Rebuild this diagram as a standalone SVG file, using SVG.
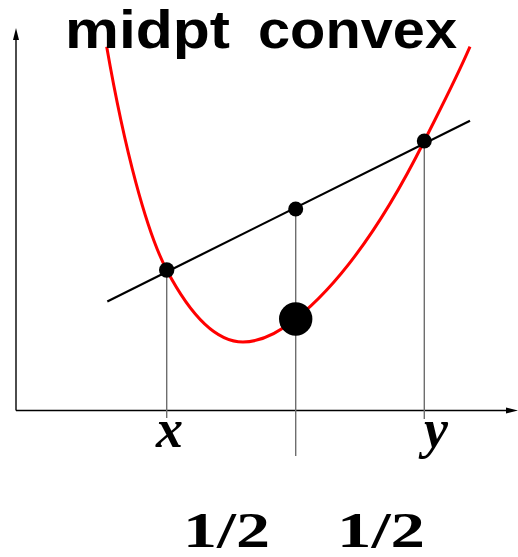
<svg xmlns="http://www.w3.org/2000/svg" width="518" height="557" viewBox="0 0 518 557">
<style>
.axis{stroke:#000;stroke-width:1.4;fill:none}
.drop{stroke:#6e6e6e;stroke-width:1.4;fill:none}
.curve{stroke:#ff0000;stroke-width:3;fill:none}
.chord{stroke:#000;stroke-width:2.2;fill:none}
.dot{fill:#000}
.math{font-family:"Liberation Serif",serif;font-weight:bold;font-style:italic;font-size:54px;fill:#000}
.num{font-family:"Liberation Serif",serif;font-weight:bold;font-size:50px;fill:#000}
.title{font-family:"Liberation Sans",Arial,sans-serif;font-weight:bold;font-size:53px;fill:#000}
</style>
<rect width="518" height="557" fill="#fff"/>
<g id="connectors">
  <g id="axes">
    <line class="axis" x1="16" y1="410.5" x2="16" y2="38"/>
    <polygon points="16,28 13,40 19,40" fill="#000"/>
    <line class="axis" x1="16" y1="410.5" x2="508" y2="410.5"/>
    <polygon points="518,410.5 506,407.5 506,413.5" fill="#000"/>
  </g>
  <g id="drops">
    <line class="drop" x1="166.7" y1="270" x2="166.7" y2="418"/>
    <line class="drop" x1="295.7" y1="209" x2="295.7" y2="456"/>
    <line class="drop" x1="424.3" y1="141" x2="424.3" y2="419"/>
  </g>
  <path id="curve" class="curve" d="M106.7,46.7 C124.7,150 146.7,232 166.7,270 C192.1,318.3 217.6,342 243,342 C260.6,342 278.1,333 295.7,319 C338.6,284.7 381.4,226.7 424.3,141 C439.5,110.5 454.8,81.7 470,46.7"/>
  <line id="chord" class="chord" x1="107.3" y1="301.5" x2="470" y2="120.7"/>
</g>
<g id="node-x-point"><circle class="dot" cx="166.7" cy="270" r="7.7"/></g>
<g id="node-mid-point"><circle class="dot" cx="295.7" cy="209" r="7.5"/></g>
<g id="node-y-point"><circle class="dot" cx="424.3" cy="141" r="7.5"/></g>
<g id="node-mid-value"><circle class="dot" cx="295.7" cy="319" r="16.7"/></g>
<g id="labels">
  <text class="title" x="65" y="48.3" textLength="165" lengthAdjust="spacingAndGlyphs">midpt</text>
  <text class="title" x="258" y="48.3" textLength="199" lengthAdjust="spacingAndGlyphs">convex</text>
  <text class="math" x="169.5" y="447" text-anchor="middle">x</text>
  <text class="math" x="436" y="447" text-anchor="middle">y</text>
  <text class="num" x="183" y="546.7" textLength="87" lengthAdjust="spacingAndGlyphs">1/2</text>
  <text class="num" x="337" y="546.7" textLength="88" lengthAdjust="spacingAndGlyphs">1/2</text>
</g>
</svg>
